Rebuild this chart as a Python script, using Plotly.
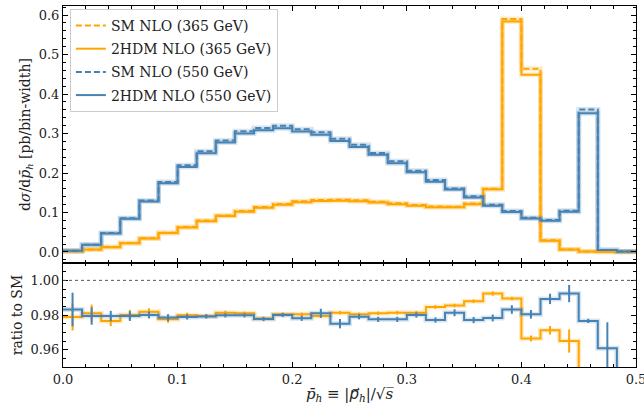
import numpy as np
import plotly.graph_objects as go
from plotly.subplots import make_subplots

# ---- data (30 bins, 0 .. 0.5) ----
bin_edges = list(np.linspace(0.0, 0.5, 31))

hdm_365 = [0.002, 0.006, 0.012, 0.022, 0.034, 0.048, 0.062, 0.078, 0.091, 0.102,
           0.112, 0.1195, 0.126, 0.129, 0.1295, 0.1285, 0.125, 0.121, 0.117, 0.113,
           0.113, 0.121, 0.159, 0.584, 0.449, 0.0285, 0.006, 0.001, 0.0005, 0.0003]
sm_365 = [0.002, 0.0061, 0.0123, 0.0225, 0.0347, 0.049, 0.0633, 0.0795, 0.0927, 0.104,
          0.1142, 0.1218, 0.1285, 0.1315, 0.132, 0.131, 0.1275, 0.1233, 0.119, 0.115,
          0.1147, 0.1225, 0.160, 0.590, 0.464, 0.0295, 0.0065, 0.0012, 0.0006, 0.0004]
hdm_550 = [0.003, 0.018, 0.047, 0.084, 0.128, 0.174, 0.215, 0.250, 0.277, 0.300,
           0.308, 0.3135, 0.305, 0.297, 0.281, 0.266, 0.246, 0.225, 0.202, 0.178,
           0.158, 0.138, 0.117, 0.101, 0.085, 0.079, 0.102, 0.3515, 0.005, 0.001]
sm_550 = [0.003, 0.0184, 0.048, 0.0857, 0.1305, 0.1775, 0.2195, 0.255, 0.2825, 0.306,
          0.314, 0.3195, 0.311, 0.303, 0.287, 0.2715, 0.251, 0.2295, 0.206, 0.182,
          0.161, 0.141, 0.1195, 0.1035, 0.087, 0.081, 0.1045, 0.361, 0.0052, 0.001]

ratio_365 = [0.9789, 0.981, 0.9766, 0.980, 0.9819, 0.9775, 0.9798, 0.9794, 0.9813, 0.981,
             0.978, 0.9804, 0.9804, 0.9794, 0.9813, 0.9804, 0.981, 0.9813, 0.9813, 0.9846,
             0.9855, 0.988, 0.9924, 0.9895, 0.9665, 0.9712, 0.965, 0.90, 0.90, 0.90]
ratio_365_err = [0.0078, 0.005, 0.003, 0.003, 0.002, 0.002, 0.0015, 0.0012, 0.0012, 0.001,
                 0.001, 0.001, 0.001, 0.001, 0.001, 0.001, 0.001, 0.001, 0.001, 0.001,
                 0.001, 0.001, 0.0012, 0.001, 0.0017, 0.0025, 0.0067, 0.02, 0.02, 0.02]
ratio_550 = [0.9832, 0.9794, 0.9794, 0.9794, 0.980, 0.9785, 0.9789, 0.9792, 0.9798, 0.9798,
             0.9777, 0.980, 0.9781, 0.981, 0.975, 0.979, 0.9775, 0.9775, 0.980, 0.9771,
             0.9813, 0.9771, 0.9783, 0.9832, 0.9804, 0.9893, 0.9924, 0.9766, 0.9608, 0.90]
ratio_550_err = [0.0097, 0.005, 0.003, 0.0028, 0.002, 0.002, 0.0015, 0.0012, 0.0012, 0.0012,
                 0.0012, 0.0012, 0.0015, 0.0026, 0.0027, 0.0015, 0.0015, 0.0015, 0.0015, 0.0015,
                 0.002, 0.0018, 0.002, 0.0025, 0.0025, 0.003, 0.005, 0.0012, 0.015, 0.03]

ORANGE = "#FFA500"
BLUE = "#4682B4"
FONT = "DejaVu Serif"
TXT = "#222222"

centers = [(bin_edges[i] + bin_edges[i + 1]) / 2 for i in range(30)]


def step_y(vals):
    return list(vals) + [vals[-1]]


fig = make_subplots(rows=2, cols=1, shared_xaxes=True, vertical_spacing=0,
                    row_heights=[0.712, 0.288])

# halos (uncertainty-band look)
for vals, col in [(sm_365, ORANGE), (hdm_365, ORANGE), (sm_550, BLUE), (hdm_550, BLUE)]:
    fig.add_trace(go.Scatter(x=bin_edges, y=step_y(vals), mode="lines", line_shape="hv",
                             line=dict(color=col, width=5), opacity=0.2,
                             showlegend=False, hoverinfo="skip"), row=1, col=1)

series = [
    (sm_365, ORANGE, "6px,3px", "SM NLO (365 GeV)"),
    (hdm_365, ORANGE, "solid", "2HDM NLO (365 GeV)"),
    (sm_550, BLUE, "6px,3px", "SM NLO (550 GeV)"),
    (hdm_550, BLUE, "solid", "2HDM NLO (550 GeV)"),
]
for i, (vals, col, dash, name) in enumerate(series):
    fig.add_trace(go.Scatter(x=bin_edges, y=step_y(vals), mode="lines", line_shape="hv",
                             line=dict(color=col, width=2, dash=dash), name=name,
                             legendgroup=f"g{i}"), row=1, col=1)

# ratio panel
for vals, errs, col in [(ratio_365, ratio_365_err, ORANGE), (ratio_550, ratio_550_err, BLUE)]:
    fig.add_trace(go.Scatter(x=bin_edges, y=step_y(vals), mode="lines", line_shape="hv",
                             line=dict(color=col, width=5), opacity=0.2,
                             showlegend=False, hoverinfo="skip"), row=2, col=1)
    fig.add_trace(go.Scatter(x=bin_edges, y=step_y(vals), mode="lines", line_shape="hv",
                             line=dict(color=col, width=2), showlegend=False), row=2, col=1)
    fig.add_trace(go.Scatter(x=centers, y=vals, mode="markers",
                             marker=dict(size=2, color=col, opacity=0),
                             error_y=dict(type="data", array=errs, color=col, thickness=2, width=0),
                             showlegend=False, hoverinfo="skip"), row=2, col=1)

fig.add_hline(y=1.0, line=dict(color="#555555", width=1, dash="dot"), row=2, col=1)

axis_common = dict(showline=True, linecolor="black", linewidth=1, mirror="allticks",
                   ticks="inside", ticklen=5, tickcolor="black", showgrid=False,
                   zeroline=False, automargin=False, ticklabeloverflow="allow",
                   tickfont=dict(family=FONT, size=13, color=TXT))

fig.update_xaxes(range=[0, 0.5], dtick=0.1, tickformat=".1f",
                 minor=dict(dtick=0.02, ticks="inside", ticklen=3, tickcolor="black"),
                 **axis_common)
fig.update_xaxes(showticklabels=False, row=1, col=1)
fig.update_xaxes(
    title=dict(
        text=("<i>p̄</i><sub><i>h</i></sub> ≡ |<span style='font-family:DejaVu Sans'><i>p⃗</i></span>"
              "<sub><i>h</i></sub>|/√<i>s̅</i>"),
        font=dict(family=FONT, size=15, color=TXT), standoff=2),
    row=2, col=1)

fig.update_yaxes(range=[-0.028, 0.623], dtick=0.1, tickformat=".1f",
                 minor=dict(dtick=0.02, ticks="inside", ticklen=3, tickcolor="black"),
                 title=dict(text="d<i>σ</i>/d<i>p̄</i><sub><i>h</i></sub> [pb/bin-width]",
                            font=dict(family=FONT, size=14, color=TXT), standoff=4),
                 row=1, col=1, **axis_common)
fig.update_yaxes(range=[0.95, 1.01], tickvals=[0.96, 0.98, 1.00], tickformat=".2f",
                 minor=dict(dtick=0.005, ticks="inside", ticklen=3, tickcolor="black"),
                 title=dict(text="ratio to SM", font=dict(family=FONT, size=14, color=TXT),
                            standoff=4),
                 row=2, col=1, **axis_common)

fig.update_layout(
    width=644, height=412,
    margin=dict(l=63, r=8, t=6, b=45),
    plot_bgcolor="white", paper_bgcolor="white",
    font=dict(family=FONT, size=13, color=TXT),
    legend=dict(x=0.012, y=0.992, xanchor="left", yanchor="top",
                bgcolor="rgba(255,255,255,0.85)", bordercolor="#cccccc", borderwidth=1,
                font=dict(family=FONT, size=14, color=TXT),
                itemwidth=30, tracegroupgap=2, traceorder="grouped"),
)

fig.write_html("out.html", config={"displayModeBar": False},
               post_script="document.body.style.margin='0';document.body.style.overflow='hidden';")
